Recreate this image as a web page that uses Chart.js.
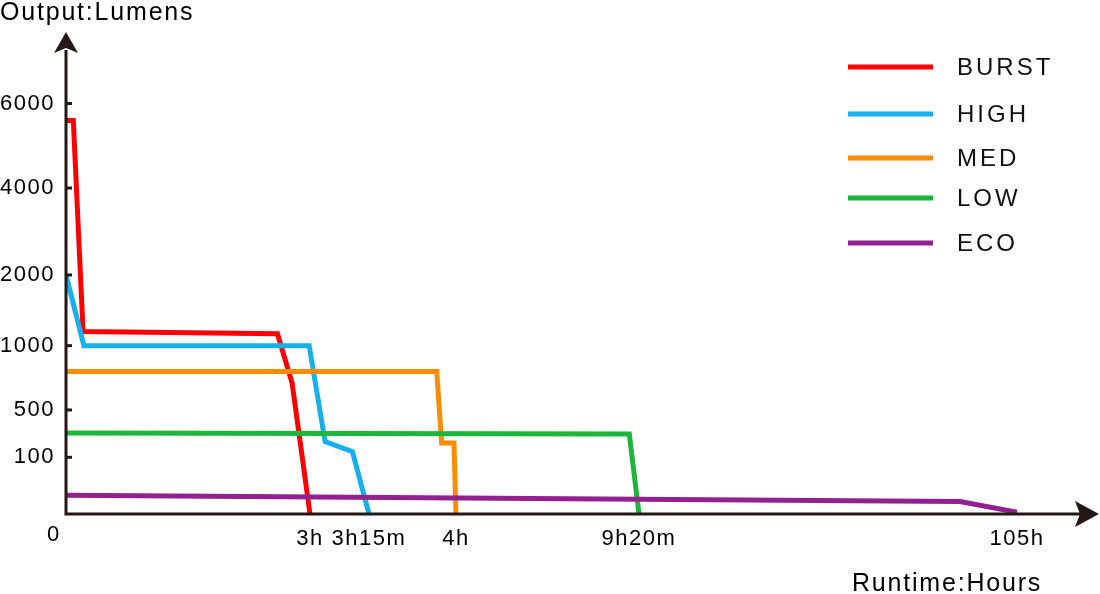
<!DOCTYPE html>
<html>
<head>
<meta charset="utf-8">
<script src="https://cdn.jsdelivr.net/npm/chart.js@4.4.1/dist/chart.umd.min.js"></script>
<style>
  html, body { margin: 0; padding: 0; background: #fff; }
  canvas { display: block; }
</style>
</head>
<body>
<canvas id="chart" width="1100" height="594"></canvas>
<script>
const modes = ['BURST', 'HIGH', 'MED', 'LOW', 'ECO'];
const modeColors = ['#ff0000', '#17b0ec', '#ff8c00', '#1db53c', '#93208f'];

// runtime (hours) and output (lumens)
const burstHours  = [0, 0.09, 0.21, 2.60, 2.78, 3.00];
const burstLumens = [5600, 5600, 1200, 1170, 710, 0];
const highHours   = [0, 0.22, 2.99, 3.064, 3.18, 3.25];
const highLumens  = [2000, 1000, 1000, 232, 147, 0];
const medHours    = [0, 3.834, 3.877, 3.983, 4.0];
const medLumens   = [800, 800, 220, 220, 0];
const lowHours    = [0, 9.05, 9.333];
const lowLumens   = [305, 297, 0];
const ecoHours    = [0, 90.6, 105];
const ecoLumens   = [33, 22, 3];

const xTickValues = [0, 3, 3.25, 4, 9.333, 105];
const xTickLabels = ['', '3h', '3h15m', '4h', '9h20m', '105h'];
const yTickValues = [0, 100, 500, 1000, 2000, 4000, 6000];
const yTickLabels = ['', '100', '500', '1000', '2000', '4000', '6000'];

const axisColor = '#231815';
const fontFamily = '"Liberation Sans", Arial, sans-serif';

// the picture uses a broken (piecewise) axis: each stop sits at a fixed fraction of the axis
class BrokenScale extends Chart.LinearScale {
  buildTicks() {
    return this.options.tickValues.map(v => ({ value: v }));
  }
  toDecimal(v) {
    const s = this.options.stops, f = this.options.fracs;
    for (let i = 1; i < s.length; i++) {
      if (v <= s[i] || i === s.length - 1) {
        return f[i - 1] + (v - s[i - 1]) / (s[i] - s[i - 1]) * (f[i] - f[i - 1]);
      }
    }
    return 0;
  }
  getPixelForValue(v) {
    return this.getPixelForDecimal(this.toDecimal(v));
  }
  getValueForPixel(p) {
    const d = this.getDecimalForPixel(p);
    const s = this.options.stops, f = this.options.fracs;
    for (let i = 1; i < f.length; i++) {
      if (d <= f[i] || i === f.length - 1) {
        return s[i - 1] + (d - f[i - 1]) / (f[i] - f[i - 1]) * (s[i] - s[i - 1]);
      }
    }
    return 0;
  }
}
BrokenScale.id = 'broken';
BrokenScale.defaults = {};
Chart.register(BrokenScale);

const series = [
  [burstHours, burstLumens],
  [highHours, highLumens],
  [medHours, medLumens],
  [lowHours, lowLumens],
  [ecoHours, ecoLumens]
];

const datasets = series.map(([hrs, lm], i) => ({
  label: modes[i],
  data: hrs.map((h, j) => ({ x: h, y: lm[j] })),
  borderColor: modeColors[i],
  backgroundColor: modeColors[i],
  borderWidth: 5,
  pointRadius: 0,
  tension: 0,
  fill: false,
  order: modes.length - i
}));

const legendRows = [67, 114, 158, 198, 243];

const decor = {
  id: 'decor',
  beforeDraw(chart) {
    chart.ctx.letterSpacing = '1.5px';
  },
  afterDatasetsDraw(chart) {
    const { ctx, chartArea: a, scales: { y } } = chart;
    ctx.save();
    ctx.strokeStyle = axisColor;
    ctx.fillStyle = axisColor;
    ctx.lineWidth = 3;
    ctx.beginPath();
    ctx.moveTo(a.left, a.bottom + 1.5);
    ctx.lineTo(a.left, a.top + 18);
    ctx.moveTo(a.left - 1.5, a.bottom);
    ctx.lineTo(a.right - 18, a.bottom);
    ctx.stroke();

    ctx.beginPath();
    ctx.moveTo(a.left, a.top);
    ctx.lineTo(a.left + 12, a.top + 21);
    ctx.lineTo(a.left, a.top + 16);
    ctx.lineTo(a.left - 12, a.top + 21);
    ctx.closePath();
    ctx.moveTo(a.right, a.bottom);
    ctx.lineTo(a.right - 24, a.bottom - 13);
    ctx.lineTo(a.right - 19, a.bottom);
    ctx.lineTo(a.right - 24, a.bottom + 13);
    ctx.closePath();
    ctx.fill();

    yTickValues.forEach(v => {
      if (!v) return;
      const py = y.getPixelForValue(v);
      ctx.beginPath();
      ctx.moveTo(a.left, py);
      ctx.lineTo(a.left + 6, py);
      ctx.stroke();
    });
    ctx.restore();
  },
  afterDraw(chart) {
    const { ctx, chartArea: a } = chart;
    ctx.save();
    // legend
    ctx.font = '24px ' + fontFamily;
    ctx.letterSpacing = '3px';
    ctx.textBaseline = 'middle';
    ctx.textAlign = 'left';
    chart.data.datasets.forEach((ds, i) => {
      const ry = legendRows[i];
      ctx.strokeStyle = ds.borderColor;
      ctx.lineWidth = 5;
      ctx.beginPath();
      ctx.moveTo(848, ry);
      ctx.lineTo(933, ry);
      ctx.stroke();
      ctx.fillStyle = '#111';
      ctx.fillText(ds.label, 957, ry + 1);
    });

    // axis titles
    ctx.fillStyle = '#000';
    ctx.font = '25px ' + fontFamily;
    ctx.letterSpacing = '1.8px';
    ctx.textBaseline = 'alphabetic';
    ctx.fillText('Output:Lumens', 0, 20);
    ctx.fillText('Runtime:Hours', 852, 591);

    // origin label
    ctx.font = '22px ' + fontFamily;
    ctx.letterSpacing = '0px';
    ctx.textAlign = 'center';
    ctx.textBaseline = 'middle';
    ctx.fillText('0', a.left - 13, a.bottom + 21);
    ctx.restore();
  }
};

new Chart(document.getElementById('chart'), {
  type: 'line',
  data: { datasets },
  options: {
    responsive: false,
    animation: false,
    layout: { padding: { top: 32, right: 1, left: 0, bottom: 0 } },
    plugins: { legend: { display: false }, tooltip: { enabled: false } },
    scales: {
      x: {
        type: 'broken',
        min: 0,
        max: 125.8,
        stops: [0, 3, 3.25, 4, 9.333, 105, 125.8],
        fracs: [0, 0.2362, 0.2933, 0.3775, 0.5547, 0.9206, 1],
        tickValues: xTickValues,
        grid: { display: false, drawTicks: false },
        border: { display: false },
        ticks: {
          autoSkip: false,
          maxRotation: 0,
          padding: 12,
          color: '#000',
          font: { family: fontFamily, size: 22 },
          callback: (v, i) => xTickLabels[i]
        },
        afterFit: s => { s.height = 80; }
      },
      y: {
        type: 'broken',
        min: 0,
        max: 7700,
        stops: [0, 100, 500, 1000, 2000, 4000, 6000, 7700],
        fracs: [0, 0.1176, 0.2158, 0.3492, 0.4959, 0.6763, 0.8517, 1],
        tickValues: yTickValues,
        grid: { display: false, drawTicks: false },
        border: { display: false },
        ticks: {
          padding: 11,
          color: '#000',
          font: { family: fontFamily, size: 22 },
          callback: (v, i) => yTickLabels[i]
        },
        afterFit: s => { s.width = 66; }
      }
    }
  },
  plugins: [decor]
});
</script>
</body>
</html>
